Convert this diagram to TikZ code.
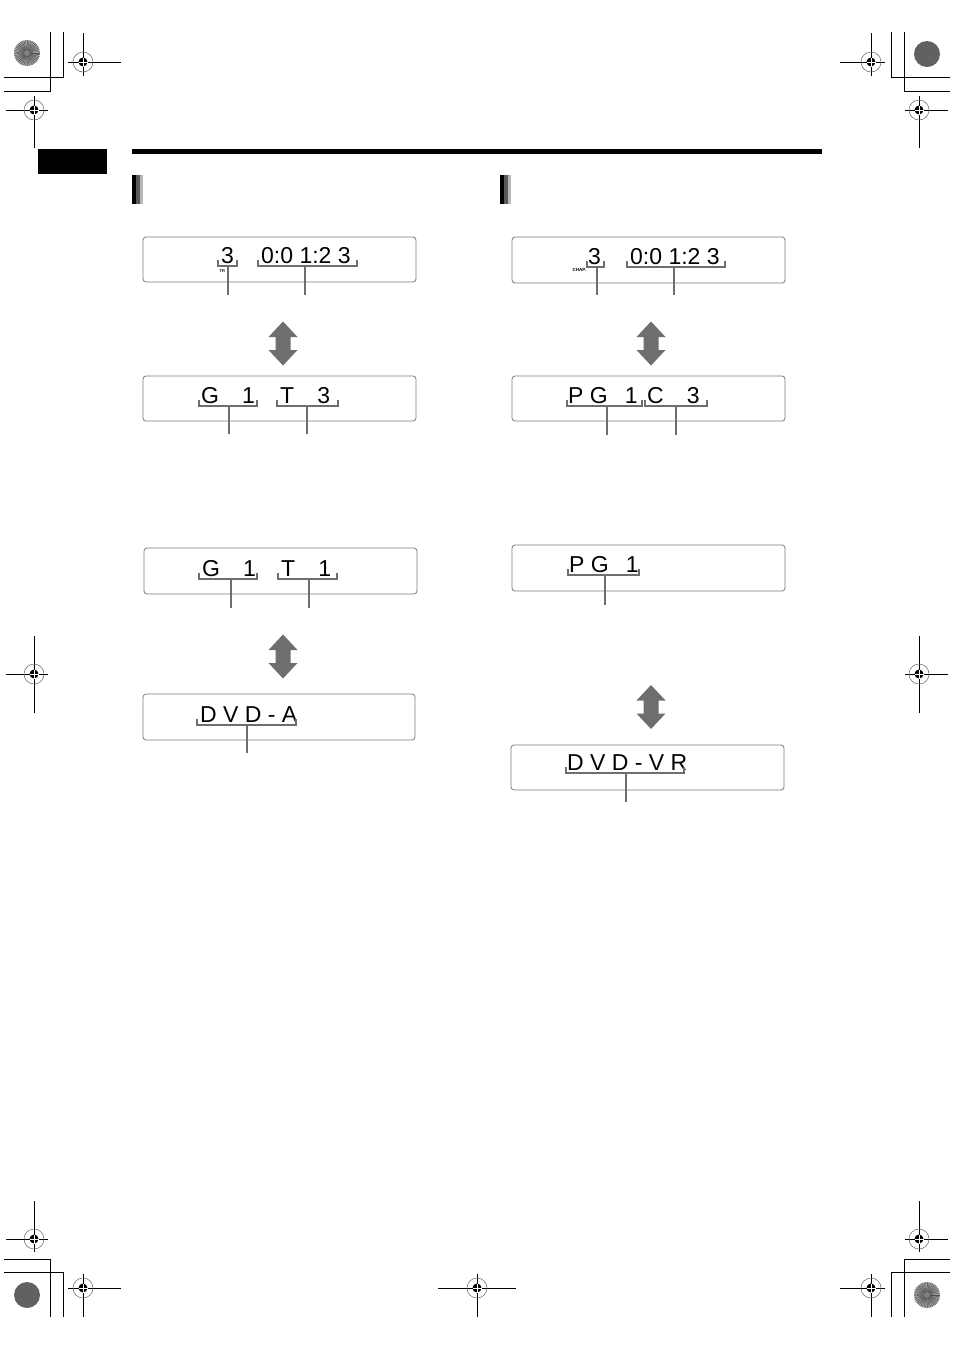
\documentclass[tikz,border=0pt]{standalone}
\usepackage{fontspec}
\setsansfont{Liberation Sans}
\usetikzlibrary{positioning}
\definecolor{lcdgray}{HTML}{6E6E6E}
\definecolor{framegray}{HTML}{7A7A7A}
\newcommand\segbracket[3]{\draw[brk] (#1,#3-6) -- (#1,#3) -- (#2,#3) -- (#2,#3-6);}
\newcommand\targetmark[6]{%
  \draw[mk] (#1-#3,#2) -- (#1+#4,#2) (#1,#2-#5) -- (#1,#2+#6);
  \draw[black!60,line width=0.5pt] (#1,#2) circle (10);
  \fill (#1,#2) circle (4.5);
  \draw[white,line width=0.6pt] (#1-4.5,#2) -- (#1+4.5,#2) (#1,#2-4.5) -- (#1,#2+4.5);}
\newcommand\sunburst[2]{%
  \fill[black!35] (#1,#2) circle (13);
  \foreach \a in {0,8,...,352} \draw[black!70,line width=0.4pt] (#1,#2) -- ++(\a:13);
  \fill[black!50] (#1,#2) circle (3);}
\begin{document}
\begin{tikzpicture}[x=1pt,y=-1pt,
  lcd/.style={draw=framegray,line width=0.8pt,rounded corners=3pt,minimum width=273pt,minimum height=45pt,inner sep=0pt},
  seg/.style={font=\sffamily\fontsize{23}{23}\selectfont,anchor=base west,inner sep=0pt},
  tag/.style={font=\sffamily\bfseries\fontsize{4.5}{4.5}\selectfont,anchor=west,inner sep=0pt},
  brk/.style={draw=lcdgray,line width=1.4pt},
  lead/.style={draw=lcdgray,line width=1.4pt},
  mk/.style={line width=1pt},
  updown/.pic={\fill[lcdgray] (0,-22) -- (14.5,-6.5) -- (7.5,-6.5) -- (7.5,6.5) -- (14.5,6.5) -- (0,22)
     -- (-14.5,6.5) -- (-7.5,6.5) -- (-7.5,-6.5) -- (-14.5,-6.5) -- cycle;}]
\useasboundingbox (0,0) rectangle (954,1350);

\sunburst{27}{53}
\sunburst{927}{1295}
\fill[black!62] (927,54) circle (13);
\fill[black!62] (27,1295) circle (13);
\draw[mk] (4,91) -- (50,91) -- (50,32) (4,77) -- (63,77) -- (63,32);
\draw[mk] (950,77) -- (891,77) -- (891,32) (950,91) -- (904,91) -- (904,32);
\draw[mk] (4,1259) -- (50,1259) -- (50,1317) (4,1272) -- (63,1272) -- (63,1317);
\draw[mk] (950,1272) -- (891,1272) -- (891,1317) (950,1259) -- (904,1259) -- (904,1317);
\targetmark{83}{62}{15}{38}{29}{14}
\targetmark{871}{62}{31}{14}{29}{14}
\targetmark{34}{110}{28}{14}{14}{38}
\targetmark{919}{110}{14}{29}{14}{38}
\targetmark{34}{674}{28}{14}{38}{39}
\targetmark{919}{674}{14}{29}{38}{39}
\targetmark{34}{1239}{28}{14}{38}{13}
\targetmark{919}{1239}{14}{29}{38}{13}
\targetmark{83}{1288}{15}{38}{14}{29}
\targetmark{871}{1288}{31}{14}{14}{29}
\targetmark{477}{1288}{39}{39}{14}{29}

\fill (38,149) rectangle (107,174);
\fill (132,149) rectangle (822,154);
\fill (132,175) rectangle (136,204);
\fill[black!65] (136,175) rectangle (139.5,204);
\fill[black!28] (139.5,175) rectangle (143,204);
\fill (500,175) rectangle (504,204);
\fill[black!65] (504,175) rectangle (507.5,204);
\fill[black!28] (507.5,175) rectangle (511,204);

\node[lcd] (l1) at (279.5,259.5) {};
\node[seg] (l1a) at (221,263.5) {3};
\node[seg] (l1b) at (261,263.5) {0:0 1:2 3};
\node[tag] (l1c) at (219.5,271.5) {\fontsize{4}{4}\selectfont TR};
\segbracket{218}{237}{266}
\segbracket{258}{357}{266}
\coordinate (l1p) at (228,266); \coordinate (l1pe) at (228,295);
\coordinate (l1q) at (305,266); \coordinate (l1qe) at (305,295);
\draw[lead] (l1p) -- (l1pe);
\draw[lead] (l1q) -- (l1qe);
\pic (a1) at (283,343.5) {updown};

\node[lcd] (l2) at (279.5,398.5) {};
\node[seg] (l2a) at (201,403.5) {G\quad 1};
\node[seg] (l2b) at (280,403.5) {T\quad 3};
\segbracket{199}{257}{406}
\segbracket{277}{338}{406}
\coordinate (l2p) at (229,406); \coordinate (l2pe) at (229,434);
\coordinate (l2q) at (307,406); \coordinate (l2qe) at (307,434);
\draw[lead] (l2p) -- (l2pe);
\draw[lead] (l2q) -- (l2qe);

\node[lcd,minimum height=46pt] (l3) at (280.5,571) {};
\node[seg] (l3a) at (202,576) {G\quad 1};
\node[seg] (l3b) at (281,576) {T\quad 1};
\segbracket{199}{257}{579}
\segbracket{278}{337}{579}
\coordinate (l3p) at (231,579); \coordinate (l3pe) at (231,608);
\coordinate (l3q) at (309,579); \coordinate (l3qe) at (309,608);
\draw[lead] (l3p) -- (l3pe);
\draw[lead] (l3q) -- (l3qe);
\pic (a2) at (283,656.5) {updown};

\node[lcd,minimum width=272pt,minimum height=46pt] (l4) at (279,717) {};
\node[seg] (l4a) at (200,722.5) {D V D - A};
\segbracket{197}{296}{725}
\coordinate (l4p) at (247,725); \coordinate (l4pe) at (247,753);
\draw[lead] (l4p) -- (l4pe);

\node[lcd,minimum height=46pt] (r1) at (648.5,260) {};
\node[seg] (r1a) at (588,264) {3};
\node[seg] (r1b) at (630,264) {0:0 1:2 3};
\node[tag] (r1c) at (572.5,270) {CHAP.};
\segbracket{587}{604}{267}
\segbracket{627}{725}{267}
\coordinate (r1p) at (597,267); \coordinate (r1pe) at (597,295);
\coordinate (r1q) at (674,267); \coordinate (r1qe) at (674,295);
\draw[lead] (r1p) -- (r1pe);
\draw[lead] (r1q) -- (r1qe);
\pic (a3) at (651,343.5) {updown};

\node[lcd] (r2) at (648.5,398.5) {};
\node[seg] (r2a) at (568,403.5) {P G\hspace{17pt}1};
\node[seg] (r2b) at (647,403.5) {C\quad 3};
\segbracket{567}{642}{406}
\segbracket{645}{707}{406}
\coordinate (r2p) at (607,406); \coordinate (r2pe) at (607,435);
\coordinate (r2q) at (676,406); \coordinate (r2qe) at (676,435);
\draw[lead] (r2p) -- (r2pe);
\draw[lead] (r2q) -- (r2qe);

\node[lcd,minimum height=46pt] (r3) at (648.5,568) {};
\node[seg] (r3a) at (569,572.5) {P G\hspace{17pt}1};
\segbracket{568}{639}{575}
\coordinate (r3p) at (605,575); \coordinate (r3pe) at (605,605);
\draw[lead] (r3p) -- (r3pe);
\pic (a4) at (651,707) {updown};

\node[lcd] (r4) at (647.5,767.5) {};
\node[seg] (r4a) at (567,770.5) {D V D - V R};
\segbracket{566}{684}{773}
\coordinate (r4p) at (626,773); \coordinate (r4pe) at (626,802);
\draw[lead] (r4p) -- (r4pe);
\end{tikzpicture}
\end{document}
